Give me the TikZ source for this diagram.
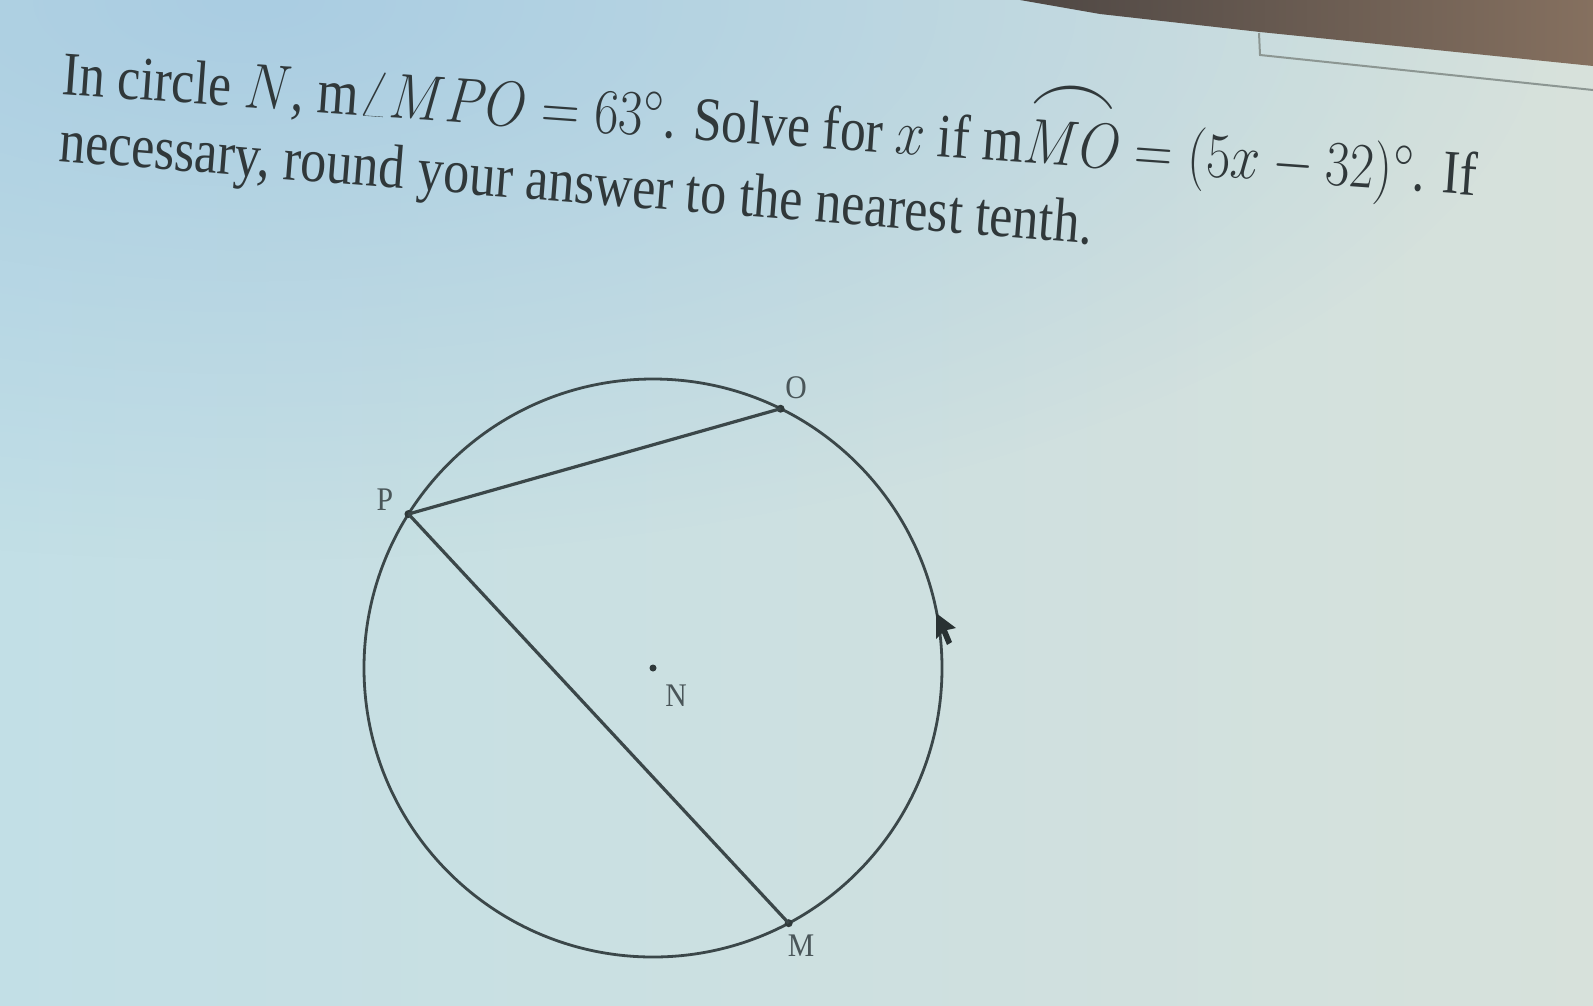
\RequirePackage{fix-cm}
\documentclass[tikz,border=0pt]{standalone}
\usepackage{amsmath}
\usepackage{fontspec}
\setmainfont{Liberation Serif}
\DeclareMathSizes{62}{64}{48}{38}
\usetikzlibrary{fadings,calc}
\tikzfading[name=softblob, inner color=transparent!0, outer color=transparent!100]
\definecolor{bgL}{HTML}{C2DFE6}
\definecolor{bgR}{HTML}{D7E1DB}
\definecolor{bgTop}{HTML}{AACDE2}
\definecolor{bezel}{HTML}{85705F}
\definecolor{bezelD}{HTML}{4E4744}
\definecolor{ink}{HTML}{30383A}
\definecolor{geo}{HTML}{3B4749}
\definecolor{lblc}{HTML}{4A5659}
\definecolor{frame}{HTML}{8C9692}
\tikzset{
  txt/.style={font=\fontsize{62}{74}\selectfont, text=ink, inner sep=0pt, anchor=base west},
  circ/.style={draw=geo, line width=2.8pt},
  chord/.style={draw=geo, line width=3.2pt},
  dot/.style={circle, fill=geo!80!black, inner sep=0pt, minimum size=8pt},
  lbl/.style={font=\fontsize{33}{38}\selectfont, text=lblc, inner sep=0pt, xscale=0.9},
}
\begin{document}
\begin{tikzpicture}[x=1pt,y=-1pt]
\useasboundingbox (0,0) rectangle (1593,1005);
% background
\shade[left color=bgL, right color=bgR] (0,0) rectangle (1593,1005);
\fill[bgTop, path fading=softblob] (250,0) ellipse [x radius=1300, y radius=560];
% monitor bezel
\shade[left color=bezelD, right color=bezel] (1020,0) -- (1100,14) -- (1260,32) -- (1593,66) -- (1593,0) -- cycle;
\draw[frame, line width=2pt] (1259,33) -- (1260,55) -- (1593,90);
% circle
\coordinate (Nc) at (653,668);
\draw[circ] (Nc) circle [radius=289pt];
\node[dot] (P) at ($(Nc)+(-147.8:289)$) {};
\node[dot] (O) at ($(Nc)+(-63.8:289)$) {};
\node[dot] (M) at ($(Nc)+(62:289)$) {};
\node[dot, minimum size=7pt] (N) at (Nc) {};
\draw[chord] (P.center) -- (O.center);
\draw[chord] (P.center) -- (M.center);
\node[lbl] (lP) at (385,500) {P};
\node[lbl] (lO) at (796,388) {O};
\node[lbl] (lN) at (676,696) {N};
\node[lbl] (lM) at (801,946) {M};
% cursor
\fill[geo!70!black] (936,613) -- (956,628) -- (947,630) -- (952,642) -- (947,645) -- (942,633) -- (936,639) -- cycle;
% text
\node[txt, rotate=-4.1, xscale=0.83] (l1) at (61,94)
  {In circle $N$, $\mathrm{m}\angle MPO = 63^\circ$. Solve for $x$ if $\mathrm{m}\overset{\scalebox{1.7}[1.3]{$\frown$}}{MO} = (5x - 32)^\circ$. If};
\node[txt, rotate=-4.6, xscale=0.84] (l2) at (58,161)
  {necessary, round your answer to the nearest tenth.};
\end{tikzpicture}
\end{document}
